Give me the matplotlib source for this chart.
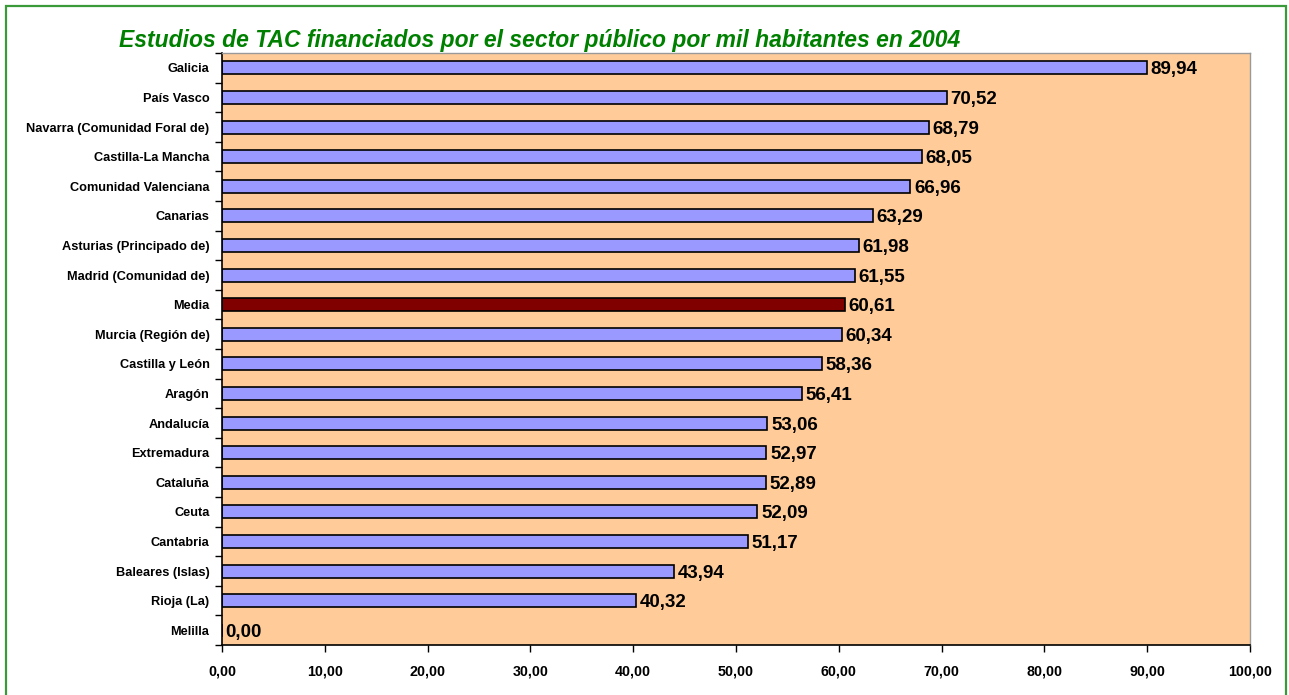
import numpy as np
import matplotlib.pyplot as plt
from matplotlib.patches import Rectangle
from matplotlib.ticker import FixedLocator, NullFormatter

# ================================
# Datos
# ================================
regiones = ["Galicia", "País Vasco", "Navarra (Comunidad Foral de)", "Castilla-La Mancha",
            "Comunidad Valenciana", "Canarias", "Asturias (Principado de)", "Madrid (Comunidad de)",
            "Media", "Murcia (Región de)", "Castilla y León", "Aragón", "Andalucía",
            "Extremadura", "Cataluña", "Ceuta", "Cantabria", "Baleares (Islas)", "Rioja (La)", "Melilla"]
valores = [89.94, 70.52, 68.79, 68.05, 66.96, 63.29, 61.98, 61.55, 60.61, 60.34,
           58.36, 56.41, 53.06, 52.97, 52.89, 52.09, 51.17, 43.94, 40.32, 0.00]
x_ticks = [0, 10, 20, 30, 40, 50, 60, 70, 80, 90, 100]

titulo = "Estudios de TAC financiados por el sector público por mil habitantes en 2004"

plt.rcParams['font.family'] = ['Liberation Sans', 'DejaVu Sans']

fig = plt.figure(figsize=(12.89, 6.95), dpi=100)
ax = fig.add_axes([0.1722, 0.0719, 0.7975, 0.8518])

# borde verde exterior
fig.patches.append(Rectangle((6 / 1289, -0.01), 1280 / 1289, 1 - 6 / 695 + 0.01,
                             transform=fig.transFigure, fill=False,
                             edgecolor="#3a9a3a", linewidth=1.6))

n = len(regiones)
y = np.arange(n)
colores = ["#800000" if r == "Media" else "#9999FF" for r in regiones]
ax.barh(y, valores, height=0.44, color=colores, edgecolor="black", linewidth=1.2)

for yi, v in zip(y, valores):
    ax.text(v + 0.35, yi + 0.07, f"{v:.2f}".replace(".", ","), va="center", ha="left",
            fontsize=13.5, fontweight="bold", color="black")

ax.set_facecolor("#FFCC99")
ax.set_xlim(0, 100)
ax.set_ylim(n - 0.5, -0.5)

ax.set_xticks(x_ticks)
ax.set_xticklabels([f"{t:.2f}".replace(".", ",") for t in x_ticks],
                   fontsize=10.3, fontweight="bold")
ax.set_yticks(y)
ax.set_yticklabels(regiones, fontsize=9.2, fontweight="bold")
ax.tick_params(axis="y", which="major", length=0, pad=9)
ax.yaxis.set_minor_locator(FixedLocator(np.arange(-0.5, n, 1)))
ax.yaxis.set_minor_formatter(NullFormatter())
ax.tick_params(axis="y", which="minor", length=5, width=1)
ax.tick_params(axis="x", length=5, width=1, pad=9)

for s in ["left", "bottom"]:
    ax.spines[s].set_linewidth(1.2)
for s in ["top", "right"]:
    ax.spines[s].set_color("#999999")
    ax.spines[s].set_linewidth(1)

fig.text(540 / 1289, 1 - 40 / 695, titulo, ha="center", va="center",
         fontsize=16.5, fontweight="bold", fontstyle="italic", color="#008000")

fig.savefig("out.png", dpi=100)
